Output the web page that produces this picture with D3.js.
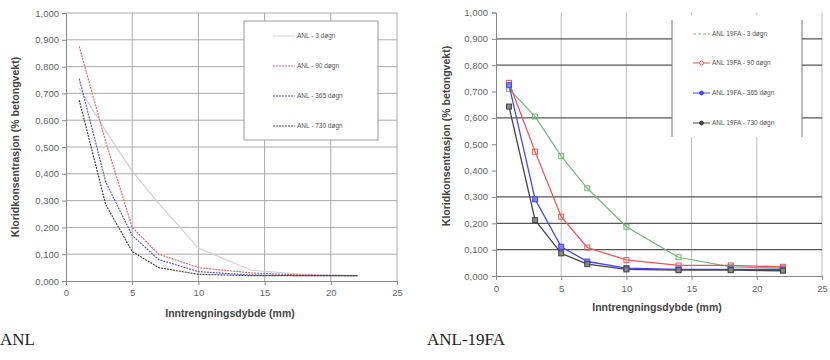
<!DOCTYPE html>
<html><head><meta charset="utf-8">
<script src="https://cdn.jsdelivr.net/npm/d3@7"></script>
<style>
body{margin:0;background:#fff;}
svg text{font-family:"Liberation Sans",Arial,sans-serif;}
</style></head>
<body><svg id="c" width="830" height="360"></svg>
<script>
const depths = [1, 3, 5, 7, 10, 14, 18, 22];
const xTicks = [0, 5, 10, 15, 20, 25];
const yTicks = [0, 0.1, 0.2, 0.3, 0.4, 0.5, 0.6, 0.7, 0.8, 0.9, 1.0];
// Left chart (ANL)
const anlNames = ["ANL - 3 døgn", "ANL - 90 døgn", "ANL - 365 døgn", "ANL - 730 døgn"];
const anl3 = [0.72, 0.56, 0.41, 0.29, 0.123, 0.04, 0.025, 0.02];
const anl90 = [0.875, 0.52, 0.20, 0.10, 0.05, 0.03, 0.022, 0.02];
const anl365 = [0.755, 0.37, 0.17, 0.08, 0.035, 0.022, 0.02, 0.02];
const anl730 = [0.675, 0.285, 0.11, 0.05, 0.025, 0.02, 0.02, 0.02];
// Right chart (ANL-19FA)
const faNames = ["ANL 19FA - 3 døgn", "ANL 19FA - 90 døgn", "ANL 19FA - 365 døgn", "ANL 19FA - 730 døgn"];
const fa3 = [0.71, 0.605, 0.455, 0.333, 0.187, 0.071, 0.035, 0.03];
const fa90 = [0.733, 0.472, 0.225, 0.108, 0.061, 0.04, 0.04, 0.035];
const fa365 = [0.724, 0.291, 0.111, 0.055, 0.03, 0.025, 0.025, 0.025];
const fa730 = [0.643, 0.212, 0.086, 0.045, 0.025, 0.022, 0.022, 0.02];
const faGridY = [0.1, 0.2, 0.3, 0.6, 0.8, 0.9];

const fmt = d => d3.format(".3f")(d).replace(".", ",");
const svg = d3.select("#c");

function panel(o) {
  const x = d3.scaleLinear().domain([0, 25]).range([o.x0, o.x1]);
  const y = d3.scaleLinear().domain([0, 1]).range([o.y1, o.y0]);
  const g = svg.append("g");
  g.selectAll(".vg").data(xTicks.slice(1)).join("line")
    .attr("x1", d => x(d)).attr("x2", d => x(d)).attr("y1", o.y0).attr("y2", o.y1)
    .attr("stroke", o.vgrid).attr("stroke-width", 1);
  g.selectAll(".hg").data(o.hgridVals).join("line")
    .attr("x1", o.x0).attr("x2", o.x1).attr("y1", d => y(d)).attr("y2", d => y(d))
    .attr("stroke", o.hgrid).attr("stroke-width", o.hgw);
  const ya = d3.axisLeft(y).tickValues(yTicks).tickFormat(fmt).tickSize(o.tick).tickPadding(o.ypad);
  const yg = g.append("g").attr("transform", `translate(${o.x0},0)`).call(ya);
  const xa = d3.axisBottom(x).tickValues(xTicks).tickSize(o.tick).tickPadding(o.xpad);
  const xg = g.append("g").attr("transform", `translate(0,${o.y1})`).call(xa);
  [yg, xg].forEach(a => {
    a.select(".domain").attr("stroke", "#888");
    a.selectAll(".tick line").attr("stroke", "#888");
    a.selectAll("text").attr("fill", "#666").style("font-size", "9.5px").style("font-family", "'Liberation Sans',Arial,sans-serif");
  });
  g.append("text").attr("transform", `translate(${o.ytx},${o.yty}) rotate(-90)`)
    .attr("text-anchor", "middle").attr("font-size", 10.5).attr("font-weight", "bold").attr("fill", "#444")
    .text("Kloridkonsentrasjon (% betongvekt)");
  g.append("text").attr("x", o.xtx).attr("y", o.xty).attr("text-anchor", "middle")
    .attr("font-size", 10.5).attr("font-weight", "bold").attr("fill", "#444").text("Inntrengningsdybde (mm)");
  g.append("rect").attr("x", o.lx0).attr("y", o.ly0).attr("width", o.lx1 - o.lx0).attr("height", o.ly1 - o.ly0)
    .attr("fill", "#fff").attr("stroke", o.lborder ? "#999" : "none");
  if (!o.lborder) {
    [o.lx0, o.lx1].forEach(xx => g.append("line").attr("x1", xx).attr("x2", xx).attr("y1", o.ly0 + 5).attr("y2", o.ly1)
      .attr("stroke", "#777").attr("stroke-width", 1));
  }
  const line = d3.line().x((d, i) => x(depths[i])).y(d => y(d));
  o.series.forEach((s, k) => {
    g.append("path").datum(s.vals).attr("d", line).attr("fill", "none")
      .attr("stroke", s.color).attr("stroke-width", s.w).attr("stroke-dasharray", s.dash || null);
    if (s.marker) {
      g.selectAll(null).data(s.vals).join("rect")
        .attr("x", (d, i) => x(depths[i]) - 2.5).attr("y", d => y(d) - 2.5).attr("width", 5).attr("height", 5)
        .attr("fill", s.mfill).attr("stroke", s.color).attr("stroke-width", 1);
    }
    const ly = o.legY[k];
    g.append("line").attr("x1", o.lsx0).attr("x2", o.lsx1).attr("y1", ly).attr("y2", ly)
      .attr("stroke", s.color).attr("stroke-width", 1).attr("stroke-dasharray", s.ldash || null);
    if (s.lmarker) {
      g.append("circle").attr("cx", (o.lsx0 + o.lsx1) / 2).attr("cy", ly).attr("r", 2)
        .attr("fill", s.lmarker).attr("stroke", s.color);
    }
    g.append("text").attr("x", o.lsx1 + 2).attr("y", ly + 2.3).attr("font-size", 6.5).attr("fill", "#555").text(o.names[k]);
  });
}

panel({
  x0: 66, x1: 397, y0: 13, y1: 281, vgrid: "#aaa", hgrid: "#aaa", hgw: 1, hgridVals: yTicks.slice(1),
  tick: 4, ypad: 3, xpad: 4,
  ytx: 19, yty: 147, xtx: 230, xty: 317,
  lx0: 244, lx1: 378, ly0: 21, ly1: 140, lborder: true,
  lsx0: 273, lsx1: 295, legY: [36, 66, 96, 126], names: anlNames,
  series: [
    {vals: anl3, color: "#d0d0d0", w: 1.2},
    {vals: anl90, color: "#e46a6a", w: 1.2, dash: "2,1", ldash: "2,1"},
    {vals: anl365, color: "#5a5ad2", w: 1.2, dash: "2,1", ldash: "2,1"},
    {vals: anl730, color: "#444", w: 1.2, dash: "2,1", ldash: "2,1"}
  ]
});

panel({
  x0: 496, x1: 822, y0: 12.5, y1: 276, vgrid: "#bbb", hgrid: "#555", hgw: 1.3, hgridVals: faGridY,
  tick: 4, ypad: 4, xpad: 5,
  ytx: 450, yty: 136, xtx: 657, xty: 311,
  lx0: 672, lx1: 802, ly0: 15, ly1: 137, lborder: false,
  lsx0: 693, lsx1: 710, legY: [34, 63, 93, 123], names: faNames,
  series: [
    {vals: fa3, color: "#72b872", w: 1.2, marker: true, mfill: "none", ldash: "3,2"},
    {vals: fa90, color: "#f05555", w: 1.3, marker: true, mfill: "none", lmarker: "#fff"},
    {vals: fa365, color: "#4646ee", w: 1.3, marker: true, mfill: "#8080f0", lmarker: "#4646ee"},
    {vals: fa730, color: "#444", w: 1.3, marker: true, mfill: "#888", lmarker: "#444"}
  ]
});

svg.append("text").attr("x", 0).attr("y", 345)
  .style("font-family", "'Liberation Serif','Times New Roman',serif").attr("font-size", 17).attr("fill", "#222").text("ANL");
svg.append("text").attr("x", 427).attr("y", 345)
  .style("font-family", "'Liberation Serif','Times New Roman',serif").attr("font-size", 17).attr("fill", "#222").text("ANL-19FA");
</script></body></html>
